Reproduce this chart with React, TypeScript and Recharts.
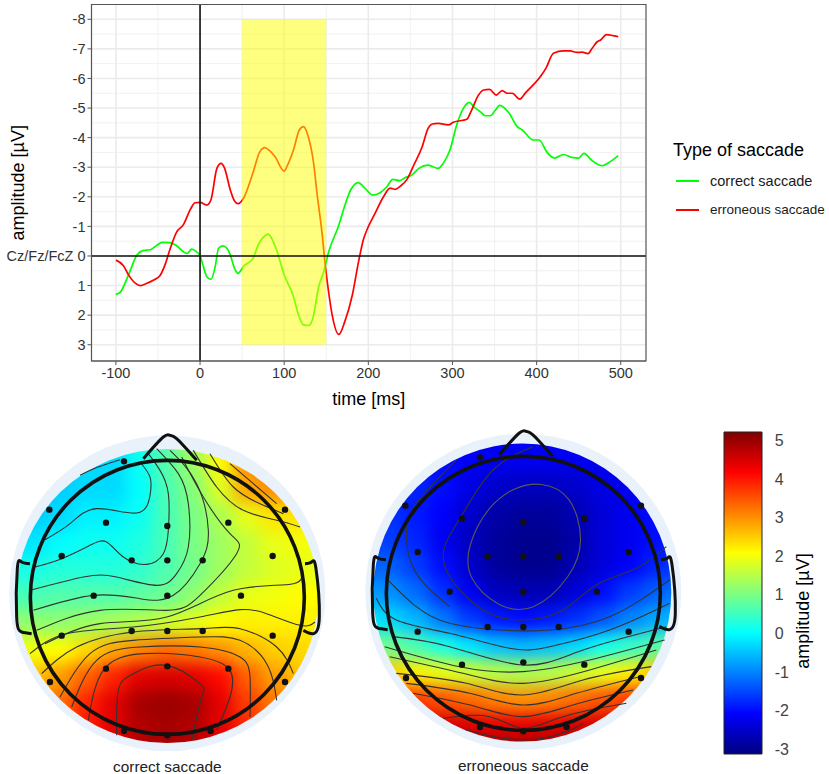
import React from "react";
import {
  ComposedChart, Line, Scatter, Bar, XAxis, YAxis, CartesianGrid,
  ReferenceArea, ReferenceLine, Legend,
} from "recharts";

const FONT = "'Liberation Sans', Arial, sans-serif";

// ---- ERP traces ----
const correctTimes = [-100,-95,-85,-75,-68,-59,-52,-45,-36,-29,-18,-15,-10,-6,0,4,8,13,18,22,27,32,36,41,45,52,63,69,75,81,85,91,100,111,117,123,129,134,141,147,153,165,171,179,188,196,205,214,222,229,237,244,252,260,271,283,289,297,305,313,320,326,333,339,345,351,356,367,377,383,396,403,412,421,432,442,450,456,466,478,486,497];
const correctValues = [1.3,1.23,0.64,-0.03,-0.18,-0.21,-0.35,-0.46,-0.45,-0.37,-0.11,-0.09,-0.23,-0.18,0,0.36,0.7,0.79,0.36,-0.26,-0.34,-0.26,-0.03,0.42,0.59,0.34,0.08,-0.37,-0.63,-0.74,-0.6,-0.2,0.64,1.37,1.99,2.33,2.35,2.11,1.04,0.53,-0.15,-1.05,-1.61,-2.23,-2.48,-2.29,-2.06,-2.14,-2.34,-2.59,-2.55,-2.65,-2.74,-2.96,-3.07,-2.96,-3.13,-3.58,-4.43,-4.99,-5.19,-5.02,-4.88,-4.74,-4.74,-4.93,-5.09,-4.84,-4.37,-4.26,-3.92,-3.92,-3.52,-3.31,-3.43,-3.33,-3.31,-3.47,-3.22,-3.05,-3.16,-3.39];
const errorTimes = [-100,-91,-85,-77,-71,-63,-55,-48,-41,-36,-28,-20,-11,-6,0,8,13,20,25,29,36,41,45,52,63,71,77,81,89,100,104,111,118,123,128,135,139,145,149,153,157,165,172,181,188,194,200,208,218,226,232,238,246,254,264,271,276,283,295,301,317,322,331,337,344,352,359,365,371,380,387,405,411,420,432,440,448,454,461,466,472,476,483,492,497];
const errorValues = [0.14,0.33,0.64,0.92,1,0.92,0.81,0.68,0.25,-0.2,-0.8,-1.05,-1.6,-1.8,-1.81,-1.72,-1.9,-2.96,-3.13,-2.98,-2.23,-1.86,-1.77,-1.97,-2.82,-3.52,-3.66,-3.6,-3.36,-2.87,-3.07,-3.58,-4.26,-4.37,-4.09,-3.13,-2.12,-0.77,0.36,1.26,1.99,2.65,2.22,1.32,0.25,-0.54,-0.99,-1.44,-2,-2.29,-2.25,-2.36,-2.59,-3.07,-3.69,-4.31,-4.46,-4.48,-4.43,-4.52,-4.62,-4.88,-5.44,-5.61,-5.63,-5.44,-5.59,-5.5,-5.5,-5.3,-5.52,-6.08,-6.34,-6.85,-6.93,-6.93,-6.88,-6.89,-6.84,-7.02,-7.24,-7.3,-7.48,-7.44,-7.41];

const xTicks = [-100, 0, 100, 200, 300, 400, 500];
const xMinor = [-50, 50, 150, 250, 350, 450];
const yTicks = [-8, -7, -6, -5, -4, -3, -2, -1, 0, 1, 2, 3];
const yMinor = [-7.5, -6.5, -5.5, -4.5, -3.5, -2.5, -1.5, -0.5, 0.5, 1.5, 2.5];

const CORRECT = "correct saccade";
const ERROR = "erroneous saccade";
const traceColors: Record<string, string> = { [CORRECT]: "#00ff00", [ERROR]: "#ff0000" };

// ---- scalp maps, coordinates have the head centre at 0,0 and head radius ~411 ----
const gridX = [-480,-400,-320,-240,-160,-80,0,80,160,240,320,400,480];
const gridY = [480,400,320,240,160,80,0,-80,-160,-240,-320,-400,-480];

const correctHeat = [
  [-.4,-.4,-.4,-.3,-.3,.2,.8,1.4,2.2,3,3.2,3,3],
  [-.4,-.4,-.4,-.3,-.3,.1,.7,1.3,2.1,3,3.3,3,3],
  [-.4,-.4,-.4,-.3,-.3,0,.6,1.1,1.8,2.8,3,2.8,2.6],
  [-.4,-.4,-.3,-.1,-.1,.1,.6,1,1.4,1.9,2.3,2.3,2.3],
  [-.2,-.2,0,.1,.1,.25,.6,1,1.3,1.6,1.9,2,2],
  [.2,.2,.3,.3,.3,.4,.65,.95,1.3,1.6,1.8,1.9,1.9],
  [.6,.6,.7,.7,.7,.8,.9,1.2,1.6,1.9,2,2.1,2.1],
  [1.2,1.2,1.2,1.3,1.4,1.5,1.7,1.9,2.1,2.2,2.2,2.2,2.2],
  [2,2,2.1,2.4,2.8,3.1,3.3,3.2,3,2.7,2.5,2.4,2.3],
  [2.6,2.6,2.9,3.4,3.9,4.4,4.5,4.4,4.1,3.4,2.9,2.6,2.6],
  [3.1,3.1,3.3,3.9,4.4,4.9,5,4.9,4.4,3.7,3.2,3,3],
  [3.4,3.4,3.5,4,4.4,4.8,4.9,4.8,4.4,3.9,3.5,3.3,3.3],
  [3.4,3.4,3.5,4,4.4,4.8,4.9,4.8,4.4,3.9,3.5,3.3,3.3],
];
const errorHeat = [
  [-1.9,-1.9,-1.9,-2,-2.1,-2.1,-2.1,-2.1,-2.1,-2.1,-2.1,-2.1,-2.1],
  [-1.8,-1.8,-1.8,-2,-2.1,-2.2,-2.2,-2.2,-2.2,-2.2,-2.1,-2.1,-2.1],
  [-1.7,-1.7,-1.8,-2,-2.3,-2.5,-2.6,-2.6,-2.5,-2.3,-2.2,-2.1,-2.1],
  [-1.7,-1.7,-1.9,-2.1,-2.5,-2.8,-2.9,-2.9,-2.7,-2.4,-2.2,-2,-2],
  [-1.6,-1.6,-1.8,-2.2,-2.6,-2.9,-3,-3,-2.8,-2.4,-2.2,-2,-1.9],
  [-1.3,-1.3,-1.6,-2,-2.5,-2.9,-3,-3,-2.7,-2.4,-2.1,-1.8,-1.6],
  [-.8,-.9,-1.2,-1.7,-2.2,-2.6,-2.7,-2.7,-2.4,-2,-1.6,-1.3,-1.1],
  [-.2,-.3,-.6,-1.1,-1.6,-1.9,-2,-1.9,-1.7,-1.4,-1,-.7,-.5],
  [1,.9,.6,.2,-.2,-.5,-.6,-.5,-.3,.1,.4,.7,.8],
  [2.6,2.5,2.2,1.9,1.7,1.5,1.4,1.5,1.7,1.9,2.2,2.5,2.6],
  [3.8,3.8,3.7,3.5,3.3,3.1,3,3.1,3.3,3.5,3.7,3.8,3.8],
  [4.6,4.6,4.6,4.5,4.5,4.4,4.4,4.4,4.5,4.5,4.6,4.6,4.6],
  [5.1,5.1,5.1,5.1,5.1,5.1,5.1,5.1,5.1,5.1,5.1,5.1,5.1],
];

const electrodes = [
  [-130,408],[-354,263],[-184,224],[0,214],[183,224],[353,263],
  [-317,124],[-107,111],[0,111],[106,111],[316,124],
  [-221,5],[0,5],[221,5],
  [-317,-115],[-107,-101],[0,-101],[106,-101],[316,-115],
  [-184,-214],[0,-207],[183,-214],[-352,-254],[353,-254],
  [-130,-401],[0,-414],[130,-401],
];

const nose = [[-72,416],[-12,481],[8,486],[28,476],[88,411]];
const leftEar = [[-412,101],[-437,106],[-450,86],[-452,-59],[-437,-104],[-407,-109]];
const rightEar = [[413,101],[433,106],[446,86],[456,-59],[438,-109],[408,-99]];

const correctContours = [
  [[-262,366],[-210,390],[-142,413]],
  [[-367,173],[-292,221],[-212,266],[-92,253],[-52,306],[-52,361],[-82,406]],
  [[-397,91],[-317,116],[-232,156],[-182,166],[-132,121],[-62,99],[-12,131],[3,201],[3,311],[-22,381],[-57,431]],
  [[-412,21],[-252,61],[-152,61],[-32,36],[28,71],[63,151],[63,281],[33,371],[-32,446]],
  [[-402,-39],[-222,6],[-82,-4],[18,6],[98,101],[123,201],[88,341],[8,441]],
  [[-392,-99],[-202,-39],[-2,-39],[98,6],[208,131],[188,191],[108,301],[43,421]],
  [[-367,-139],[-202,-79],[-2,-59],[198,21],[378,41],[398,91]],
  [[398,211],[328,231],[228,261],[148,331],[78,441]],
  [[-412,-169],[-302,-109],[-102,-89],[98,-59],[218,-37],[298,-49],[398,-84],[443,-74]],
  [[-377,-229],[-272,-149],[-102,-104],[98,-94],[218,-94],[328,-149],[378,-229]],
  [[-322,-299],[-232,-169],[-102,-129],[98,-119],[218,-129],[298,-199],[328,-309]],
  [[-287,-329],[-212,-189],[-82,-149],[98,-149],[218,-179],[248,-239],[248,-359]],
  [[-237,-369],[-192,-219],[-72,-169],[98,-179],[188,-219],[188,-299],[148,-399]],
  [[-152,-414],[-147,-279],[-102,-229],[-2,-204],[98,-259],[103,-299],[73,-429]],
  [[128,431],[198,331],[278,281],[348,251]],
  [[188,401],[258,341],[328,281]],
];
const errorContours = [
  [[29,440],[-91,370],[-181,240],[-236,140],[-221,50],[-121,-50],[-1,-80],[119,-50],[219,25],[339,75],[429,140]],
  [[-201,400],[-321,270],[-351,170],[-321,60],[-221,-40]],
  [[-406,40],[-321,-40],[-221,-90],[-71,-110],[79,-110],[259,-70],[439,40]],
  [[-441,-15],[-381,-80],[-221,-120],[-41,-165],[79,-160],[259,-110],[439,-30]],
  [[-391,-130],[-221,-160],[-1,-215],[179,-170],[429,-100]],
  [[-416,-160],[-191,-220],[-1,-235],[199,-200],[424,-140]],
  [[-401,-190],[-181,-240],[-1,-270],[199,-230],[399,-170]],
  [[-381,-240],[-171,-270],[-1,-305],[179,-260],[384,-220]],
  [[-351,-270],[-161,-300],[-1,-335],[159,-300],[349,-250]],
  [[-331,-300],[-141,-340],[-1,-370],[149,-335],[329,-290]],
  [[-241,-375],[-101,-370],[-1,-405],[119,-370],[309,-330]],
  [[-171,-410],[-1,-440],[129,-415],[179,-390]],
];
// control points of a closed curve, set a little outside the line seen in the picture
const errorClosedContour = [[52,335],[145,300],[185,155],[145,50],[30,-60],[-75,-45],[-170,45],[-170,140],[-105,265],[-25,320]];

// ---- colour bar ----
const barTicks = [-3, -2, -1, 0, 1, 2, 3, 4, 5];
const barRange = [-3.13, 5.22];
const barStops = [
  ["0%", "#000080"], ["12.5%", "#0000ff"], ["37.5%", "#00ffff"],
  ["62.5%", "#ffff00"], ["87.5%", "#ff0000"], ["100%", "#800000"],
];

function clamp(v: number) {
  return Math.round(255 * Math.max(0, Math.min(1, v)));
}

function jet(v: number) {
  const t = (v - barRange[0]) / (barRange[1] - barRange[0]);
  const r = clamp(Math.min(4 * t - 1.5, -4 * t + 4.5));
  const g = clamp(Math.min(4 * t - 0.5, -4 * t + 3.5));
  const b = clamp(Math.min(4 * t + 0.5, -4 * t + 2.5));
  return `rgb(${r},${g},${b})`;
}

const toPoints = (pts: number[][]) => pts.map(([x, y]) => ({ x, y }));
const traceData = (ts: number[], vs: number[]) => ts.map((t, i) => ({ t, v: vs[i] }));

function ErpLegend({ payload }: any) {
  return (
    <div style={{ fontFamily: FONT, color: "#000" }}>
      <div style={{ fontSize: 18, lineHeight: "22px", marginTop: 4, marginBottom: 5, whiteSpace: "nowrap" }}>Type of saccade</div>
      {(payload ?? []).map((p: any, i: number) => (
        <div key={p.value} style={{ display: "flex", alignItems: "center", height: 29, whiteSpace: "nowrap" }}>
          <span style={{ display: "inline-block", width: 23, height: 2, marginLeft: 3, marginRight: 11, background: traceColors[p.value] }} />
          <span style={{ fontSize: i === 0 ? 14.5 : 13.5, color: "#1a1a1a" }}>{p.value}</span>
        </div>
      ))}
    </div>
  );
}

function ErpChart() {
  return (
    <ComposedChart
      width={829}
      height={410}
      margin={{ top: 4.5, right: 183, bottom: 0, left: 0 }}
      style={{ fontFamily: FONT }}
    >
      <CartesianGrid horizontalValues={yMinor} verticalValues={xMinor} stroke="#eeeeee" strokeWidth={0.8} />
      <CartesianGrid horizontalValues={yTicks} verticalValues={xTicks} stroke="#ebebeb" strokeWidth={1.6} />
      <XAxis
        type="number"
        dataKey="t"
        domain={[-129, 530]}
        ticks={xTicks}
        height={49}
        tickSize={4}
        tickMargin={3}
        tick={{ fontSize: 14.5, fill: "#333" }}
        stroke="#555"
        label={{ value: "time [ms]", position: "insideBottom", offset: 5, fontSize: 18, fill: "#000" }}
      />
      <YAxis
        type="number"
        dataKey="v"
        reversed
        domain={[-8.5, 3.55]}
        ticks={yTicks}
        width={91.5}
        interval={0}
        tickSize={4}
        tickMargin={2}
        tick={{ fontSize: 14.5, fill: "#333" }}
        stroke="#555"
        tickFormatter={(v) => (v === 0 ? "Cz/Fz/FcZ 0" : String(v))}
        label={{ value: "amplitude [µV]", angle: -90, position: "insideLeft", offset: 18, fontSize: 18, fill: "#000", style: { textAnchor: "middle" } }}
      />
      <Line data={traceData(correctTimes, correctValues)} dataKey="v" name={CORRECT} type="monotone" stroke={traceColors[CORRECT]} strokeWidth={1.7} dot={false} activeDot={false} isAnimationActive={false} />
      <Line data={traceData(errorTimes, errorValues)} dataKey="v" name={ERROR} type="monotone" stroke={traceColors[ERROR]} strokeWidth={1.7} dot={false} activeDot={false} isAnimationActive={false} />
      <ReferenceArea x1={50} x2={150} y1={-8} y2={3} fill="#ffff00" fillOpacity={0.5} stroke="none" zIndex={450} />
      <ReferenceLine x={0} stroke="#111" strokeWidth={1.6} zIndex={460} />
      <ReferenceLine y={0} stroke="#111" strokeWidth={1.6} zIndex={460} />
      <ReferenceArea x1={-129} x2={530} y1={-8.5} y2={3.55} fill="none" stroke="#555" strokeWidth={1.2} zIndex={470} />
      <Legend
        layout="vertical"
        align="center"
        verticalAlign="middle"
        content={<ErpLegend />}
        wrapperStyle={{ left: 673, top: 135, width: 156, bottom: "auto", right: "auto" }}
      />
    </ComposedChart>
  );
}

function TopoMap({ id, heat, contours, closed, label, labelOffset, left, top, field, discY }: any) {
  const cells = heat.flatMap((row: number[], r: number) =>
    row.map((v, c) => ({ x: gridX[c], y: gridY[r], v }))
  );
  return (
    <div style={{ position: "absolute", left, top }}>
      <ComposedChart width={328.67} height={345} margin={{ top: 0, right: 0, bottom: 0, left: 0 }} style={{ fontFamily: FONT }}>
        <defs>
          <filter id={`${id}-blur`} colorInterpolationFilters="sRGB">
            <feGaussianBlur stdDeviation={8} />
          </filter>
          <clipPath id={`${id}-clip`}>
            <ellipse cx={field.cx} cy={field.cy} rx={field.rx} ry={field.ry} />
          </clipPath>
        </defs>
        <XAxis
          type="number"
          dataKey="x"
          domain={[-493, 493]}
          height={16.33}
          tick={false}
          axisLine={false}
          tickLine={false}
          label={{ value: label, position: "insideBottom", offset: labelOffset, fontSize: 15.4, fill: "#222" }}
        />
        <YAxis type="number" dataKey="y" domain={[-493, 493]} width={0} hide />
        <Scatter
          zIndex={100}
          data={[{ x: 0, y: discY }]}
          isAnimationActive={false}
          shape={(p: any) => <circle cx={p.cx} cy={p.cy} r={158} fill="#e9f1fb" />}
        />
        <Scatter
          zIndex={110}
          className={`${id}-heat`}
          data={cells}
          isAnimationActive={false}
          shape={(p: any) => <rect x={p.cx - 14} y={p.cy - 14} width={28} height={28} fill={jet(p.v)} />}
        />
        {contours.map((pts: number[][], i: number) => (
          <Line key={i} zIndex={120} data={toPoints(pts)} dataKey="y" type="natural" stroke="#333" strokeWidth={1.1} dot={false} activeDot={false} isAnimationActive={false} />
        ))}
        {closed && (
          <Line zIndex={120} data={toPoints(closed)} dataKey="y" type="basisClosed" stroke="#5a5a50" strokeWidth={1.1} dot={false} activeDot={false} isAnimationActive={false} />
        )}
        {[nose, leftEar, rightEar].map((pts, i) => (
          <Line key={`head${i}`} zIndex={130} data={toPoints(pts)} dataKey="y" type="natural" stroke="#111" strokeWidth={3} dot={false} activeDot={false} isAnimationActive={false} />
        ))}
        <Scatter
          zIndex={130}
          data={[{ x: 0, y: 0 }]}
          isAnimationActive={false}
          shape={(p: any) => <circle cx={p.cx} cy={p.cy} r={137} fill="none" stroke="#111" strokeWidth={3.6} />}
        />
        <Scatter
          zIndex={140}
          data={toPoints(electrodes)}
          isAnimationActive={false}
          shape={(p: any) => <circle cx={p.cx} cy={p.cy} r={3.2} fill="#111" />}
        />
      </ComposedChart>
    </div>
  );
}

function BarTitle({ viewBox }: any) {
  const x = viewBox.x + 47;
  const y = viewBox.y + viewBox.height / 2 + 18;
  return (
    <text x={x} y={y} transform={`rotate(-90 ${x} ${y})`} textAnchor="middle" fontSize={18} fill="#000">
      amplitude [µV]
    </text>
  );
}

function ColourBar() {
  return (
    <div style={{ position: "absolute", left: 700, top: 420 }}>
      <ComposedChart
        width={129}
        height={354}
        data={[{ name: "bar", range: barRange }]}
        margin={{ top: 12, right: 0, bottom: 20, left: 24 }}
        barCategoryGap={0}
        style={{ fontFamily: FONT }}
      >
        <defs>
          <linearGradient id="jetBar" x1="0" y1="1" x2="0" y2="0">
            {barStops.map(([offset, color]) => (
              <stop key={offset} offset={offset} stopColor={color} />
            ))}
          </linearGradient>
        </defs>
        <XAxis dataKey="name" hide />
        <YAxis
          orientation="right"
          type="number"
          domain={barRange}
          ticks={barTicks}
          interval={0}
          width={67.3}
          tickLine={false}
          axisLine={false}
          tickMargin={7}
          tick={{ fontSize: 16, fill: "#444" }}
          label={<BarTitle />}
        />
        <Bar dataKey="range" fill="url(#jetBar)" stroke="#222" strokeWidth={1} isAnimationActive={false} />
      </ComposedChart>
    </div>
  );
}

export default function App() {
  return (
    <div style={{ position: "absolute", left: 0, top: 0, width: 829, height: 774, background: "#fff", overflow: "hidden" }}>
      <style>{`
        .left-heat { filter: url(#left-blur); clip-path: url(#left-clip); }
        .right-heat { filter: url(#right-blur); clip-path: url(#right-clip); }
      `}</style>
      <ErpChart />
      <TopoMap
        id="left"
        heat={correctHeat}
        contours={correctContours}
        label={CORRECT}
        labelOffset={6}
        left={3}
        top={432.6}
        discY={12}
        field={{ cx: 164.3, cy: 163, rx: 151, ry: 147 }}
      />
      <TopoMap
        id="right"
        heat={errorHeat}
        contours={errorContours}
        closed={errorClosedContour}
        label={ERROR}
        labelOffset={3}
        left={359.3}
        top={429}
        discY={5}
        field={{ cx: 163.3, cy: 163.6, rx: 149, ry: 149 }}
      />
      <ColourBar />
    </div>
  );
}
